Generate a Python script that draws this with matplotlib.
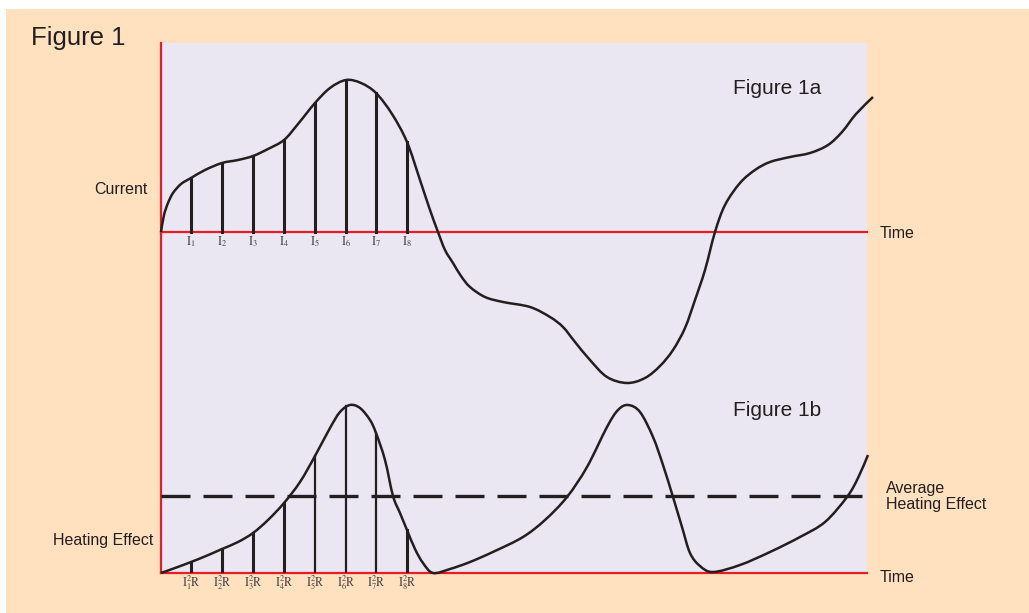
import numpy as np
import matplotlib
matplotlib.use('Agg')
import matplotlib.pyplot as plt
from matplotlib.patches import Rectangle, PathPatch
from matplotlib.path import Path

plt.rcParams['font.family'] = ['Liberation Sans', 'DejaVu Sans']
plt.rcParams['mathtext.fontset'] = 'stix'

# colours
peach = '#FFE0BF'
lavender = '#EAE7F3'
red = '#EC1C24'
ink = '#231F20'

# Figure 1a - current (time, value above the current baseline)
cur_t = [0, 3, 7, 12, 20, 30, 44, 61, 77, 92, 107, 123, 137, 154, 169, 185, 200,
         215, 231, 246, 259, 269, 277, 284, 292, 300, 309, 324, 342, 369, 389,
         402, 414, 429, 446, 466, 484, 499, 512, 524, 534, 544, 554, 564, 579,
         594, 609, 629, 649, 667, 681, 695, 712]
cur_v = [0, 17, 29, 39, 48, 54, 62, 69, 72, 76, 83, 92, 108, 129, 144, 152, 149,
         139, 118, 90, 52, 22, 0, -18, -31, -44, -55, -65, -70, -75, -85,
         -95, -110, -128, -145, -151, -146, -134, -118, -96, -68, -38, 0, 27, 49,
         62, 70, 75, 79, 87, 100, 118, 135]

# Figure 1b - heating effect
heat_t = [0, 14, 30, 45, 61, 77, 92, 107, 123, 139, 154, 169, 179, 189, 199,
          209, 215, 224, 232, 239, 246, 254, 262, 272, 289, 309, 334, 362, 384,
          406, 426, 446, 457, 467, 479, 492, 502, 512, 521, 529, 539, 552, 579,
          609, 639, 664, 686, 697, 707]
heat_v = [0, 5, 11, 17, 24, 31, 40, 53, 70, 91, 117, 145, 161, 168, 165,
          153, 140, 113, 77, 60, 43, 24, 10, 0, 4, 11, 22, 36, 53,
          76, 106, 146, 163, 168, 161, 136, 108, 76, 46, 20, 7, 1, 8,
          21, 36, 51, 76, 95, 118]

# sample instants I1..I8 and their values
sample_t = [30, 61, 92, 123, 154, 185, 215, 246]
sample_cur = [54, 69, 76, 92, 129, 152, 139, 90]
sample_heat = [11, 24, 40, 70, 117, 167, 140, 43]
sample_heat_lw = [2.2, 2.2, 2.2, 2.2, 1.6, 1.6, 1.6, 2.2]
cur_labels = [r'$\mathrm{I_{%d}}$' % (i + 1) for i in range(8)]
heat_labels = [r'$\mathrm{I_{%d}^{2}R}$' % (i + 1) for i in range(8)]

average_heat = 77
cur_base = 341      # where the current axis sits on the shared scale
t_end = 706
v_top = 530


def smooth_curve(ax, x, y, **kw):
    # draw through the read points with cubic bezier segments (catmull-rom)
    p = np.column_stack([x, y]).astype(float)
    p = np.vstack([p[0], p, p[-1]])
    verts = [p[1]]
    codes = [Path.MOVETO]
    for i in range(1, len(p) - 2):
        c1 = p[i] + (p[i + 1] - p[i - 1]) / 6
        c2 = p[i + 1] - (p[i + 2] - p[i]) / 6
        verts += [c1, c2, p[i + 1]]
        codes += [Path.CURVE4] * 3
    patch = PathPatch(Path(verts, codes), fill=False, **kw)
    ax.add_patch(patch)


W, H = 1029, 613
fig = plt.figure(figsize=(W / 100, H / 100), dpi=100, facecolor='white')
fig.patches.append(Rectangle((6 / W, 0), 1 - 6 / W, 1 - 9 / H,
                             transform=fig.transFigure, facecolor=peach,
                             edgecolor='none', zorder=-10))

ax = fig.add_axes([161 / W, 40 / H, 706 / W, 530 / H])
ax.set_facecolor(lavender)
ax.set_xlim(0, t_end)
ax.set_ylim(0, v_top)
for s in ax.spines.values():
    s.set_visible(False)
ax.set_xticks([])
ax.set_yticks([])

# red axes
ax.plot([0, 0], [0, v_top], color=red, lw=1.6, clip_on=False, zorder=3)
ax.plot([0, t_end], [cur_base, cur_base], color=red, lw=1.6, clip_on=False, zorder=3)
ax.plot([0, t_end], [0, 0], color=red, lw=1.6, clip_on=False, zorder=3)

# curves
smooth_curve(ax, cur_t, np.array(cur_v) + cur_base, edgecolor=ink, lw=1.8,
             clip_on=False, zorder=4)
smooth_curve(ax, heat_t, heat_v, edgecolor=ink, lw=1.8, clip_on=False, zorder=4)
ax.plot([0, 712], [average_heat, average_heat], color=ink, lw=2.4,
        dashes=(8.7, 3.9), clip_on=False, zorder=4)

# sample bars and labels
for t, c, h, lw, lc, lh in zip(sample_t, sample_cur, sample_heat, sample_heat_lw,
                               cur_labels, heat_labels):
    ax.plot([t, t], [cur_base, cur_base + c], color=ink, lw=2.2, zorder=4)
    ax.plot([t, t], [0, h], color=ink, lw=lw, zorder=4)
    ax.text(t, cur_base - 10, lc, fontsize=8.5, color='#444444',
            ha='center', va='center')
    ax.text(t, -10, lh, fontsize=8.5, color='#444444',
            ha='center', va='center', clip_on=False)


def ftext(x, y, s, **kw):
    fig.text(x / W, 1 - y / H, s, color=ink, **kw)


ftext(31, 38, 'Figure 1', fontsize=18.5, va='center', ha='left')
ftext(733, 88, 'Figure 1a', fontsize=15, va='center', ha='left')
ftext(733, 410, 'Figure 1b', fontsize=15, va='center', ha='left')
ftext(148, 190, 'Current', fontsize=11.5, va='center', ha='right')
ftext(153, 541, 'Heating Effect', fontsize=11.5, va='center', ha='right')
ftext(880, 234, 'Time', fontsize=11.5, va='center', ha='left')
ftext(880, 577, 'Time', fontsize=11.5, va='center', ha='left')
ftext(886, 488, 'Average', fontsize=11.5, va='center', ha='left')
ftext(886, 505, 'Heating Effect', fontsize=11.5, va='center', ha='left')

fig.savefig('out.png', dpi=100, facecolor='white')
